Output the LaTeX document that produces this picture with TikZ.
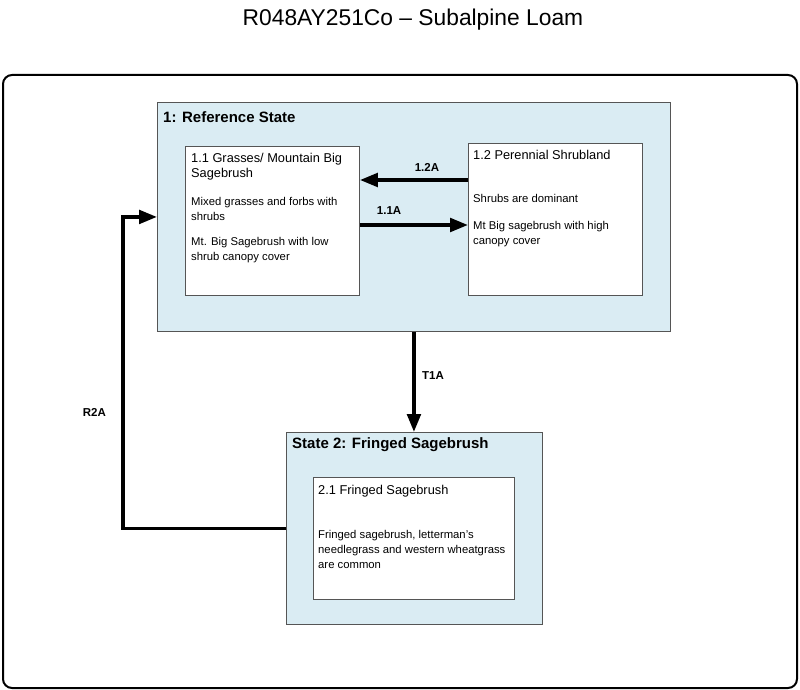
\documentclass[tikz,border=0pt]{standalone}
\usepackage{fontspec}
\setmainfont{Liberation Sans}
\usetikzlibrary{positioning}
\usetikzlibrary{arrows.meta}

\definecolor{stateblue}{RGB}{218,236,243}
\definecolor{boxgray}{RGB}{85,85,85}
\newcommand{\phasehead}[1]{{\fontsize{12.8}{16}\selectfont #1}}

\tikzset{
  statebox/.style={draw=boxgray, fill=stateblue, line width=0.9pt, anchor=north west, inner sep=0},
  phasebox/.style={draw=boxgray, fill=white, line width=0.9pt, anchor=north west, inner sep=0},
  statetitle/.style={anchor=west, inner sep=0, font=\fontsize{15}{18}\selectfont\bfseries},
  phasetext/.style={anchor=north west, inner sep=0, align=left, font=\fontsize{11.3}{15}\selectfont},
  trans/.style={line width=3.7pt, -{Triangle[length=18pt,width=13.5pt]}},
  translabel/.style={font=\fontsize{11.5}{13}\selectfont\bfseries}
}

\begin{document}
\begin{tikzpicture}[x=1pt,y=-1pt]
\useasboundingbox (0,0) rectangle (800,690);
\node (title) at (413,20) {\fontsize{22.8}{26}\selectfont R048AY251Co – Subalpine Loam};
\draw[line width=2pt, rounded corners=9pt] (3,75) rectangle (797,688); % frame
% State 1
\node[statebox, minimum width=513pt, minimum height=229pt] (state1) at (157,102) {};
\node[statetitle] (state1title) at (163,117) {1: Reference State};
\node[phasebox, minimum width=174pt, minimum height=149pt] (box11) at (185,146) {};
\node[phasetext, below right=7.5pt and 6pt of box11.north west] (text11)
  {\phasehead{1.1 Grasses/ Mountain Big}\\\phasehead{Sagebrush}\\[13pt]Mixed grasses and forbs with\\shrubs\\[10pt]Mt. Big Sagebrush with low\\shrub canopy cover};
\node[phasebox, minimum width=174pt, minimum height=152pt] (box12) at (468,143) {};
\node[phasetext, below right=7.5pt and 5pt of box12.north west] (text12)
  {\phasehead{1.2 Perennial Shrubland}\\[28pt]Shrubs are dominant\\[12pt]Mt Big sagebrush with high\\canopy cover};
% State 2
\node[statebox, minimum width=256pt, minimum height=192pt] (state2) at (286,432) {};
\node[statetitle] (state2title) at (292,445) {State 2: Fringed Sagebrush};
\node[phasebox, minimum width=201pt, minimum height=122pt] (box21) at (313,477) {};
\node[phasetext, below right=8.5pt and 5pt of box21.north west] (text21)
  {\phasehead{2.1 Fringed Sagebrush}\\[29pt]Fringed sagebrush, letterman's\\needlegrass and western wheatgrass\\are common};
% transitions
\draw[trans] ([yshift=-37pt]box12.north west) -- node[translabel, above=3pt, pos=0.38] {1.2A}
  ([yshift=-37pt]box12.north west -| box11.east);
\draw[trans] ([yshift=-79pt]box11.north east) -- node[translabel, above=5pt, pos=0.27] {1.1A}
  ([yshift=-79pt]box11.north east -| box12.west);
\draw[trans] (state1.south) -- node[translabel, right=3pt, pos=0.44] {T1A} (state1.south |- state2.north);
\draw[trans] (state2.west) -- ++(-163pt,0) |- node[translabel, left=12pt, pos=0.186] {R2A} (state1.west);
\end{tikzpicture}
\end{document}
